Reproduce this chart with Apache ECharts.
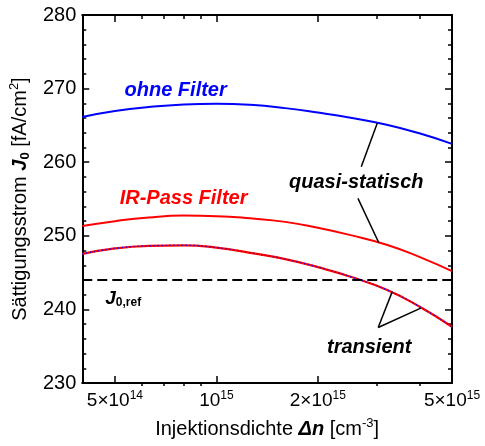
<!DOCTYPE html>
<html>
<head>
<meta charset="utf-8">
<script src="https://cdn.jsdelivr.net/npm/echarts@6/dist/echarts.min.js"></script>
<style>
  html, body { margin: 0; padding: 0; background: #fff; }
  #chart { width: 485px; height: 446px; }
</style>
</head>
<body>
<div id="chart"></div>
<script>
// Injektionsdichte [cm^-3]
const density = [4e14, 5e14, 6.3e14, 8e14, 1e15, 1.26e15, 1.6e15, 2e15, 2.5e15, 3.2e15, 4e15, 5e15];
// J0 quasi-statisch [fA/cm^2]
const ohneFilter = [266.15, 266.95, 267.5, 267.85, 267.95, 267.8, 267.35, 266.75, 266.05, 265.1, 263.93, 262.5];
const irPassFilter = [251.33, 252.0, 252.5, 252.75, 252.68, 252.38, 251.9, 251.1, 250.1, 248.8, 247.15, 245.2];
// J0 transient (beide Filter gleich)
const transient = [247.55, 248.3, 248.65, 248.72, 248.4, 247.7, 246.85, 245.75, 244.45, 242.68, 240.4, 237.65];
const j0Ref = 244;

// axes
const xRange = [4e14, 5e15];
const xMajorTicks = [5e14, 1e15, 2e15, 5e15];
const xTickLabels = ['5×10{sup|14}', '10{sup|15}', '2×10{sup|15}', '5×10{sup|15}'];
const xMinorTicks = [6e14, 7e14, 8e14, 9e14, 3e15, 4e15];
const yTicks = [230, 240, 250, 260, 270, 280];

// annotations in data coordinates
const labels = [
  { text: 'ohne Filter', at: [7.57e14, 269.76], color: '#0000ff' },
  { text: 'IR-Pass Filter', at: [7.99e14, 255.07], color: '#ff0000' },
  { text: 'quasi-statisch', at: [2.6e15, 257.2], color: '#000' },
  { text: 'transient', at: [2.84e15, 234.85], color: '#000' }
];
const refLabelAt = [4.68e14, 241.45];
const leaders = [
  [[3.0e15, 265.3], [2.69e15, 259.4]],
  [[2.63e15, 255.1], [3.03e15, 249.1]],
  [[3.02e15, 237.55], [3.32e15, 242.36]],
  [[3.02e15, 237.55], [4.04e15, 240.18]]
];

const FONT = 'Liberation Sans';
const lg = Math.log10;
const pts = (ys) => density.map((n, i) => [lg(n), ys[i]]);
const majorLog = xMajorTicks.map(lg);
const minorLog = xMinorTicks.map(lg);

const chart = echarts.init(document.getElementById('chart'));

const gridBox = { left: 82, right: 33, top: 15, bottom: 60 };
const axisLine = { onZero: false, lineStyle: { color: '#000', width: 2 } };

function xAxis(grid, pos, ticks, len, withLabels, withLine) {
  return {
    type: 'value', gridIndex: grid, position: pos,
    min: lg(xRange[0]), max: lg(xRange[1]),
    axisLine: Object.assign({ show: withLine }, axisLine),
    axisTick: { inside: true, length: len, customValues: ticks, lineStyle: { color: '#000', width: 1.5 } },
    axisLabel: withLabels ? {
      customValues: ticks, margin: 7, color: '#000', fontSize: 19, lineHeight: 22,
      formatter: (v) => {
        const i = majorLog.findIndex(t => Math.abs(t - v) < 1e-9);
        return i >= 0 ? xTickLabels[i] : '';
      },
      rich: { sup: { fontSize: 12, lineHeight: 12, verticalAlign: 'top', color: '#000' } }
    } : { show: false },
    splitLine: { show: false }
  };
}

function yAxis(grid, pos, show, withLabels) {
  return {
    type: 'value', gridIndex: grid, position: pos, show: show,
    min: yTicks[0], max: yTicks[yTicks.length - 1], interval: yTicks[1] - yTicks[0],
    axisLine: axisLine,
    axisTick: { inside: true, length: 7, lineStyle: { color: '#000', width: 1.5 } },
    minorTick: { show: true, splitNumber: 5, length: 4, lineStyle: { color: '#000', width: 1.5 } },
    axisLabel: withLabels ? { color: '#000', fontSize: 20, margin: 6 } : { show: false },
    splitLine: { show: false }
  };
}

const xMain = xAxis(0, 'bottom', majorLog, 7, true, true);
xMain.name = 'Injektionsdichte {b|Δn} [cm{sup|-3}]';
xMain.nameLocation = 'middle';
xMain.nameGap = 33;
xMain.nameTextStyle = {
  color: '#000', fontSize: 20, lineHeight: 24,
  rich: {
    b: { fontSize: 20, fontWeight: 'bold', fontStyle: 'italic', color: '#000', lineHeight: 24 },
    sup: { fontSize: 13, lineHeight: 13, verticalAlign: 'top', color: '#000' }
  }
};

const yMain = yAxis(0, 'left', true, true);
yMain.name = 'Sättigungsstrom {b|J}{sub|0} [fA/cm{sup|2}]';
yMain.nameLocation = 'middle';
yMain.nameRotate = 90;
yMain.nameGap = 46;
yMain.nameTextStyle = {
  color: '#000', fontSize: 20, lineHeight: 24,
  rich: {
    b: { fontSize: 20, fontWeight: 'bold', fontStyle: 'italic', color: '#000', lineHeight: 24 },
    sub: { fontSize: 13, fontWeight: 'bold', lineHeight: 13, verticalAlign: 'bottom', color: '#000' },
    sup: { fontSize: 13, lineHeight: 13, verticalAlign: 'top', color: '#000' }
  }
};

const lineBase = { type: 'line', smooth: 0.5, showSymbol: false, symbol: 'none', silent: true, z: 3 };

chart.setOption({
  animation: false,
  textStyle: { fontFamily: FONT },
  grid: [Object.assign({}, gridBox), Object.assign({}, gridBox)],
  xAxis: [
    xMain,
    xAxis(0, 'top', majorLog, 7, false, true),
    xAxis(1, 'bottom', minorLog, 4, false, false),
    xAxis(1, 'top', minorLog, 4, false, false)
  ],
  yAxis: [
    yMain,
    yAxis(0, 'right', true, false),
    yAxis(1, 'left', false, false),
    yAxis(1, 'right', false, false)
  ],
  series: [
    Object.assign({}, lineBase, {
      name: 'ohne Filter', data: pts(ohneFilter),
      lineStyle: { color: '#0000ff', width: 2 },
      markLine: {
        silent: true, symbol: ['none', 'none'], label: { show: false },
        lineStyle: { color: '#000', width: 1.5, type: 'solid' },
        data: leaders.map(l => [{ coord: [lg(l[0][0]), l[0][1]] }, { coord: [lg(l[1][0]), l[1][1]] }])
      }
    }),
    Object.assign({}, lineBase, {
      name: 'IR-Pass Filter', data: pts(irPassFilter),
      lineStyle: { color: '#ff0000', width: 2 }
    }),
    Object.assign({}, lineBase, {
      name: 'transient IR-Pass', data: pts(transient),
      lineStyle: { color: '#ff0000', width: 2.2 },
      markLine: {
        silent: true, symbol: ['none', 'none'], label: { show: false },
        lineStyle: { color: '#000', width: 2, type: [10, 5] },
        data: [{ yAxis: j0Ref }]
      }
    }),
    Object.assign({}, lineBase, {
      name: 'transient ohne', data: pts(transient), z: 4,
      lineStyle: { color: '#0000ff', width: 1.4, type: [1, 3] }
    })
  ]
});

const graphics = labels.map(l => {
  const p = chart.convertToPixel({ gridIndex: 0 }, [lg(l.at[0]), l.at[1]]);
  return {
    type: 'text', x: p[0], y: p[1], silent: true, z: 10,
    style: {
      text: l.text, fill: l.color, align: 'center', verticalAlign: 'middle',
      font: 'italic bold 20px "' + FONT + '"'
    }
  };
});
const rp = chart.convertToPixel({ gridIndex: 0 }, [lg(refLabelAt[0]), refLabelAt[1]]);
graphics.push({
  type: 'text', x: rp[0], y: rp[1], silent: true, z: 10,
  style: {
    text: '{j|J}{s|0,ref}', align: 'left', verticalAlign: 'middle',
    rich: {
      j: { font: 'italic bold 19px "' + FONT + '"', fill: '#000', lineHeight: 20 },
      s: { font: 'bold 12px "' + FONT + '"', fill: '#000', lineHeight: 12, verticalAlign: 'bottom' }
    }
  }
});
chart.setOption({ graphic: graphics });
</script>
</body>
</html>
